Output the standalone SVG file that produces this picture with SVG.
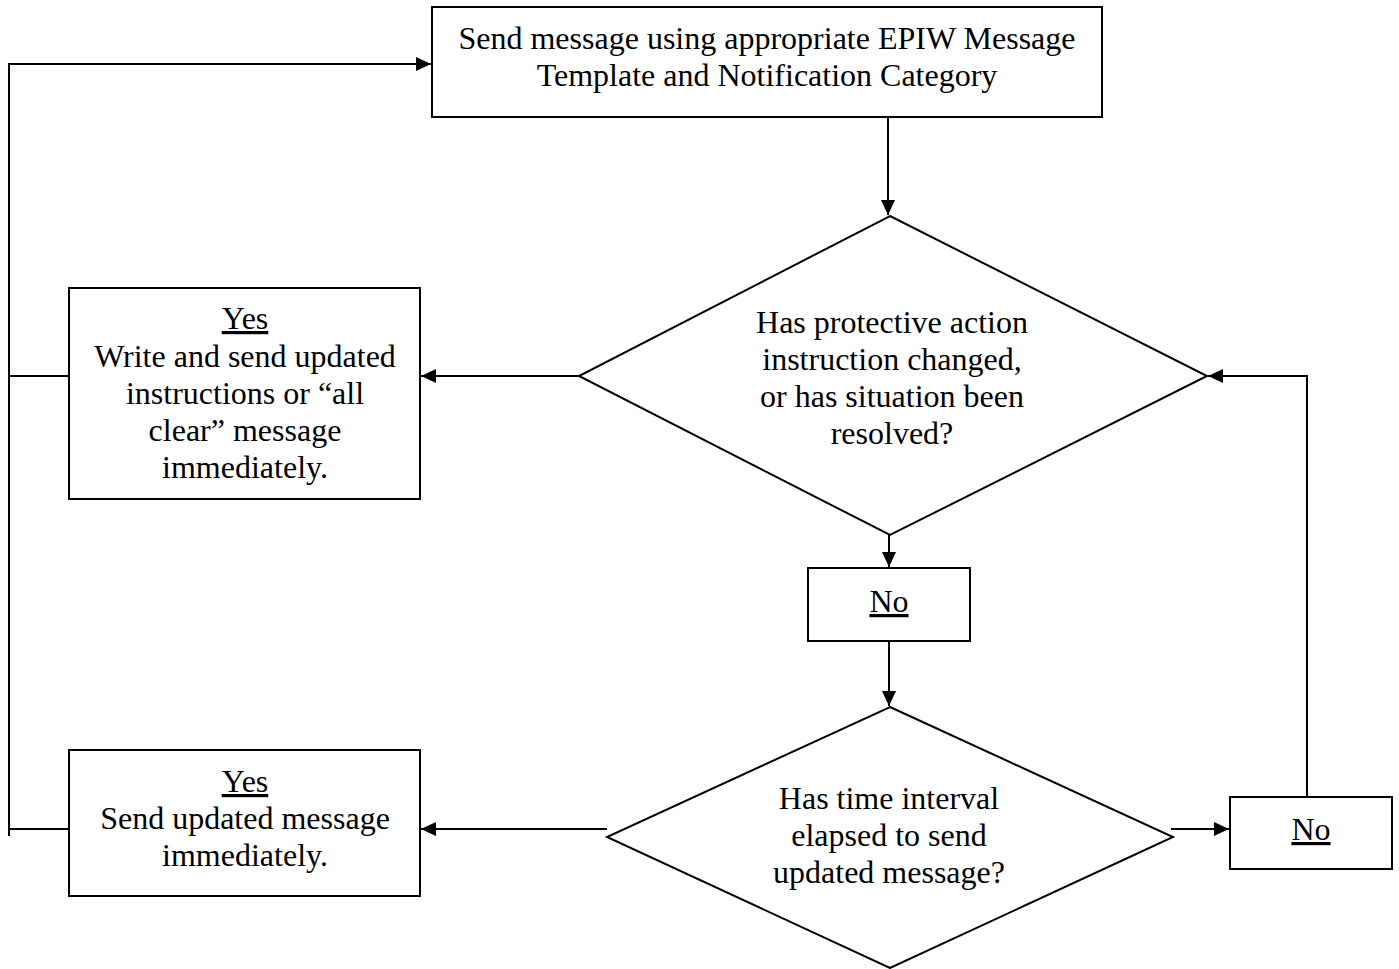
<svg xmlns="http://www.w3.org/2000/svg" width="1399" height="969" viewBox="0 0 1399 969">
<defs>
<marker id="arr" markerWidth="15" markerHeight="14" refX="15" refY="7" orient="auto" markerUnits="userSpaceOnUse">
<path d="M0,0 L15,7 L0,14 Z" fill="#000"/>
</marker>
<style>
.box{fill:#fff;stroke:#000;stroke-width:2}
.ln{fill:none;stroke:#000;stroke-width:2}
text{font-family:"Liberation Serif","Times New Roman",serif;font-size:32px;fill:#000;text-anchor:middle}
.u{text-decoration:underline}
</style>
</defs>
<rect width="1399" height="969" fill="#fff"/>
<g id="connectors">
<polyline class="ln" points="9,836 9,64 431,64" marker-end="url(#arr)"/>
<line class="ln" x1="69" y1="376" x2="9" y2="376"/>
<line class="ln" x1="69" y1="829" x2="9" y2="829"/>
<line class="ln" x1="888" y1="117" x2="888" y2="215" marker-end="url(#arr)"/>
<line class="ln" x1="579" y1="376" x2="421" y2="376" marker-end="url(#arr)"/>
<line class="ln" x1="889" y1="535" x2="889" y2="567" marker-end="url(#arr)"/>
<line class="ln" x1="889" y1="641" x2="889" y2="706" marker-end="url(#arr)"/>
<line class="ln" x1="607" y1="829" x2="421" y2="829" marker-end="url(#arr)"/>
<line class="ln" x1="1171" y1="829" x2="1229" y2="829" marker-end="url(#arr)"/>
<polyline class="ln" points="1307,803 1307,376 1208,376" marker-end="url(#arr)"/>
</g>
<g id="send">
<rect class="box" x="432" y="7" width="670" height="110"/>
<text x="767" y="49">Send message using appropriate EPIW Message</text>
<text x="767" y="86">Template and Notification Category</text>
</g>
<g id="decision1">
<polygon class="box" points="890,216 1207,376 890,535 579,376"/>
<text x="892" y="333">Has protective action</text>
<text x="892" y="370">instruction changed,</text>
<text x="892" y="407">or has situation been</text>
<text x="892" y="444">resolved?</text>
</g>
<g id="yes1">
<rect class="box" x="69" y="288" width="351" height="211"/>
<text x="245" y="329" class="u">Yes</text>
<text x="245" y="367">Write and send updated</text>
<text x="245" y="404">instructions or “all</text>
<text x="245" y="441">clear” message</text>
<text x="245" y="478">immediately.</text>
</g>
<g id="no1">
<rect class="box" x="808" y="568" width="162" height="73"/>
<text x="889" y="612" class="u">No</text>
</g>
<g id="decision2">
<polygon class="box" points="890,707 1173,837 890,968 607,837"/>
<text x="889" y="809">Has time interval</text>
<text x="889" y="846">elapsed to send</text>
<text x="889" y="883">updated message?</text>
</g>
<g id="yes2">
<rect class="box" x="69" y="750" width="351" height="146"/>
<text x="245" y="792" class="u">Yes</text>
<text x="245" y="829">Send updated message</text>
<text x="245" y="866">immediately.</text>
</g>
<g id="no2">
<rect class="box" x="1230" y="797" width="162" height="72"/>
<text x="1311" y="840" class="u">No</text>
</g>
</svg>
